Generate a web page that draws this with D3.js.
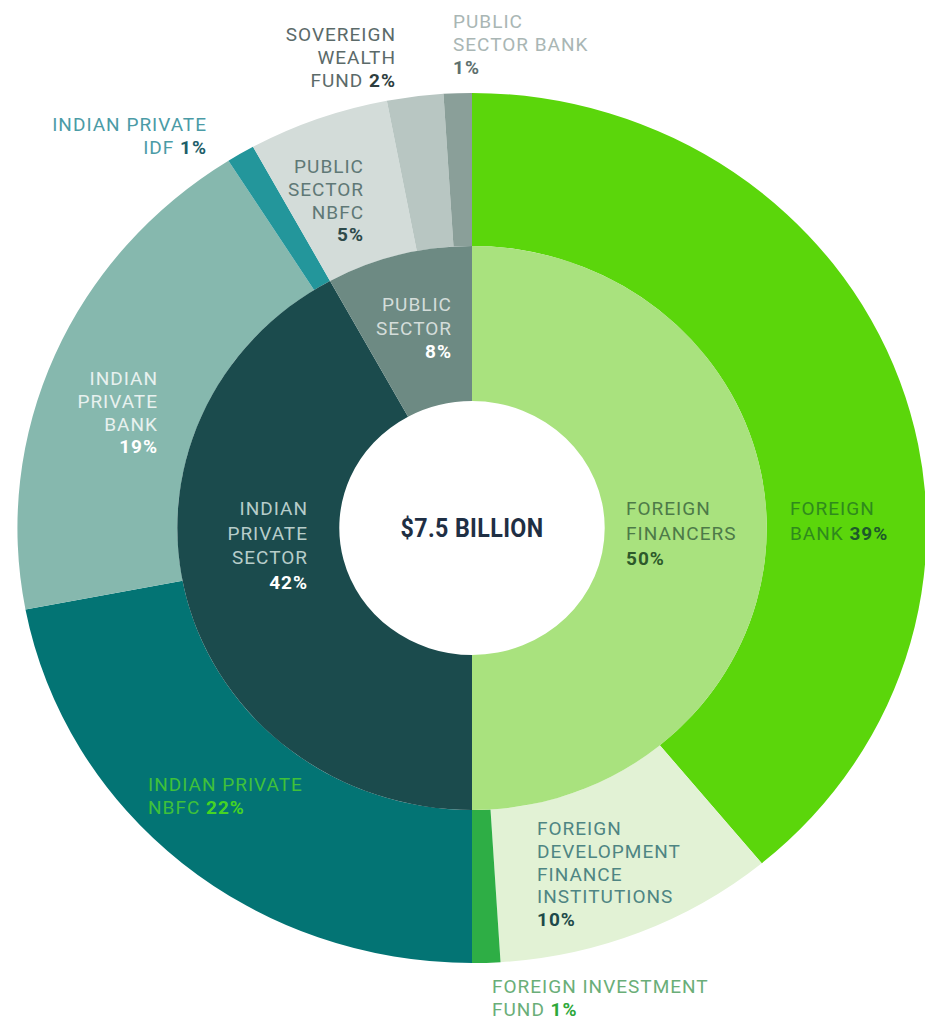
<!DOCTYPE html>
<html>
<head>
<meta charset="utf-8">
<script src="https://cdn.jsdelivr.net/npm/d3@7/dist/d3.min.js"></script>
<style>
  html, body { margin: 0; padding: 0; background: #ffffff; }
  svg { display: block; }
  text { font-family: Roboto, "Noto Sans", sans-serif; }
</style>
</head>
<body>
<svg id="chart" width="925" height="1021"></svg>
<script>
// Inner ring: financer groups (% of $7.5 billion)
const groupNames = ["Foreign Financers", "Indian Private Sector", "Public Sector"];
const groupShares = [50, 42, 8];
const groupColors = ["#a9e27e", "#1b4b4d", "#6d8a83"];

// Outer ring: financer types, in the same clockwise order as the groups
const typeNames = [
  "Foreign Bank", "Foreign Development Finance Institutions", "Foreign Investment Fund",
  "Indian Private NBFC", "Indian Private Bank", "Indian Private IDF",
  "Public Sector NBFC", "Sovereign Wealth Fund", "Public Sector Bank"
];
const typeShares = [39, 10, 1, 22, 19, 1, 5, 2, 1];
const typeColors = [
  "#5bd60b", "#e2f2d5", "#2eae45",
  "#037474", "#86b8ae", "#23969b",
  "#d3dcd9", "#b8c6c2", "#8a9f99"
];

const centerLabel = "$7.5 BILLION";

const svg = d3.select("#chart");
const cx = 472, cy = 528;
const sx = 1.045;            // horizontal stretch of the rings
const rHole = 127, rInner = 282, rOuter = 435;

const pie = d3.pie().sort(null).value(d => d).startAngle(0).endAngle(2 * Math.PI);

const rings = svg.append("g")
  .attr("transform", `translate(${cx},${cy}) scale(${sx},1)`);

const outerArc = d3.arc().innerRadius(rInner).outerRadius(rOuter);
const innerArc = d3.arc().innerRadius(rHole).outerRadius(rInner);

rings.selectAll("path.outer")
  .data(pie(typeShares))
  .join("path")
  .attr("class", "outer")
  .attr("d", outerArc)
  .attr("fill", (d, i) => typeColors[i]);

rings.selectAll("path.inner")
  .data(pie(groupShares))
  .join("path")
  .attr("class", "inner")
  .attr("d", innerArc)
  .attr("fill", (d, i) => groupColors[i]);

// Centre total
svg.append("text")
  .attr("transform", `translate(${cx},${cy + 9}) scale(0.93,1)`)
  .attr("text-anchor", "middle")
  .attr("font-size", 25).attr("font-weight", 700)
  .attr("letter-spacing", 0.4)
  .attr("fill", "#1f2f44")
  .text(centerLabel);

// Multi-line labels; the last piece on a line may be a bold percentage
function label(x, y, anchor, lines, color, pctColor, lh) {
  const t = svg.append("text")
    .attr("x", x).attr("y", y)
    .attr("text-anchor", anchor)
    .attr("font-size", 19)
    .attr("letter-spacing", 1.0)
    .attr("fill", color);
  lines.forEach((ln, i) => {
    const ts = t.append("tspan").attr("x", x).attr("dy", i === 0 ? 0 : lh);
    const [words, pct] = ln;
    if (words) ts.append("tspan").text(words + (pct ? " " : ""));
    if (pct) ts.append("tspan").attr("font-weight", 700).attr("fill", pctColor).text(pct);
  });
}

const pct = v => v + "%";

// Inner ring labels
label(626, 515, "start", [["FOREIGN"], ["FINANCERS"], [null, pct(groupShares[0])]], "#4d7a48", "#2d5a2b", 25);
label(308, 515, "end", [["INDIAN"], ["PRIVATE"], ["SECTOR"], [null, pct(groupShares[1])]], "#b7cdca", "#ffffff", 24.5);
label(452, 311, "end", [["PUBLIC"], ["SECTOR"], [null, pct(groupShares[2])]], "#d4ddda", "#ffffff", 23.5);

// Outer ring labels
label(790, 515, "start", [["FOREIGN"], ["BANK", pct(typeShares[0])]], "#2f8a1d", "#1d5a2a", 25);
label(537, 835, "start", [["FOREIGN"], ["DEVELOPMENT"], ["FINANCE"], ["INSTITUTIONS"], [null, pct(typeShares[1])]], "#4e8583", "#1e4a4a", 22.8);
label(492, 993, "start", [["FOREIGN INVESTMENT"], ["FUND", pct(typeShares[2])]], "#6aae78", "#2ea83a", 23);
label(148, 791, "start", [["INDIAN PRIVATE"], ["NBFC", pct(typeShares[3])]], "#3fc13a", "#46d424", 23);
label(158, 385, "end", [["INDIAN"], ["PRIVATE"], ["BANK"], [null, pct(typeShares[4])]], "#e8f1ef", "#ffffff", 22.8);
label(207, 131, "end", [["INDIAN PRIVATE"], ["IDF", pct(typeShares[5])]], "#4b9ba6", "#1e5e69", 23);
label(364, 173, "end", [["PUBLIC"], ["SECTOR"], ["NBFC"], [null, pct(typeShares[6])]], "#5f7876", "#2d4a4a", 22.8);
label(396, 41, "end", [["SOVEREIGN"], ["WEALTH"], ["FUND", pct(typeShares[7])]], "#5b6a69", "#2e3e3e", 22.8);
label(453, 28, "start", [["PUBLIC"], ["SECTOR BANK"], [null, pct(typeShares[8])]], "#a9b6b4", "#5e706e", 23);
</script>
</body>
</html>
